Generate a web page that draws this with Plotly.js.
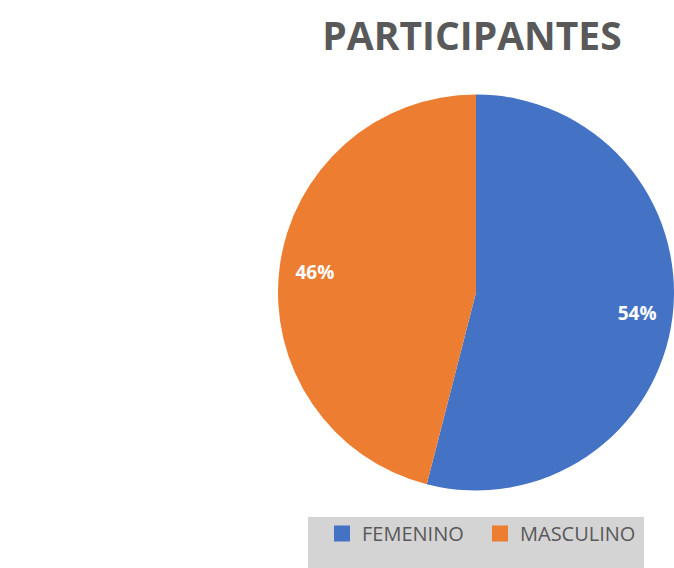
<!DOCTYPE html>
<html><head><meta charset="utf-8">
<script src="https://cdn.plot.ly/plotly-3.0.1.min.js"></script>
<style>html,body{margin:0;padding:0;background:#fff}#chart{width:674px;height:568px}</style>
</head><body><div id="chart"></div>
<script>
const categories = ["FEMENINO", "MASCULINO"];
const values = [54, 46];
const colors = ["#4472C4", "#ED7D31"];
const titleText = "PARTICIPANTES";

const pieDomain = {x: [278/674, 1], y: [(568-491)/568, (568-94)/568]};

const pie = {
  type: "pie",
  labels: categories,
  values: values,
  marker: {colors: colors, line: {color: "#ffffff", width: 0}},
  sort: false,
  direction: "clockwise",
  rotation: 0,
  textinfo: "none",
  hoverinfo: "none",
  showlegend: false,
  domain: pieDomain
};

// transparent ring used only to place the percentage labels near the rim
const labelRing = {
  type: "pie",
  labels: categories,
  values: values,
  hole: 0.64,
  marker: {colors: ["rgba(0,0,0,0)", "rgba(0,0,0,0)"], line: {width: 0}},
  sort: false,
  direction: "clockwise",
  rotation: 0,
  texttemplate: "%{percent:.0%}",
  textposition: "inside",
  insidetextorientation: "horizontal",
  textfont: {family: "Open Sans, sans-serif", size: 19, color: "#ffffff", weight: "bold"},
  hoverinfo: "none",
  showlegend: false,
  domain: pieDomain
};

const legendTraces = categories.map((c, i) => ({
  type: "scatter", x: [null], y: [null], mode: "markers", name: c,
  marker: {symbol: "square", size: 18, color: colors[i]},
  xaxis: "x", yaxis: "y", hoverinfo: "none", showlegend: true
}));

const layout = {
  width: 674, height: 568,
  margin: {l: 0, r: 0, t: 0, b: 0},
  paper_bgcolor: "#ffffff",
  plot_bgcolor: "rgba(0,0,0,0)",
  xaxis: {visible: false, domain: [0, 0.01]},
  yaxis: {visible: false, domain: [0, 0.01]},
  title: {text: "<b>" + titleText + "</b>", x: 472/674, xanchor: "center", y: 1 - 36/568, yanchor: "middle",
          font: {family: "Open Sans, sans-serif", size: 39, color: "#595959"}},
  showlegend: true,
  legend: {orientation: "h", x: 322/674, xanchor: "left", y: 1 - 514/568, yanchor: "top",
           bgcolor: "rgba(0,0,0,0)", font: {family: "Open Sans, sans-serif", size: 20, color: "#595959"},
           itemsizing: "trace", entrywidth: 113, entrywidthmode: "pixels", traceorder: "normal"},
  shapes: [{type: "rect", xref: "paper", yref: "paper", x0: 308/674, x1: 644/674, y0: 0, y1: 1 - 517/568,
            fillcolor: "#d4d4d4", line: {width: 0}, layer: "below"}]
};

Plotly.newPlot("chart", [pie, labelRing, ...legendTraces], layout, {displayModeBar: false, staticPlot: true});
</script></body></html>
